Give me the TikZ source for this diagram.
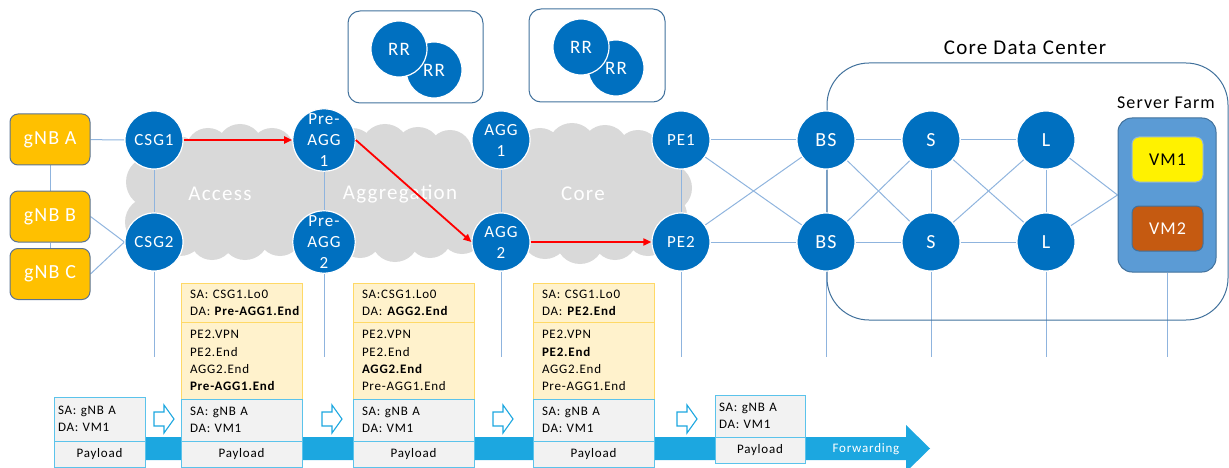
\documentclass[tikz,border=0pt]{standalone}
\usepackage{fontspec}
\setmainfont{Carlito}[LetterSpace=6]
\usetikzlibrary{arrows.meta}

\definecolor{nodeblue}{HTML}{0070C0}
\definecolor{linkblue}{HTML}{8FB4DE}
\definecolor{cloudgray}{HTML}{D9D9D9}
\definecolor{gnbfill}{HTML}{FFC000}
\definecolor{gnbedge}{HTML}{5A7394}
\definecolor{boxedge}{HTML}{41719C}
\definecolor{farmfill}{HTML}{5B9BD5}
\definecolor{vmtwo}{HTML}{C55A11}
\definecolor{orgfill}{HTML}{FFF2CC}
\definecolor{orgedge}{HTML}{FFD966}
\definecolor{grayfill}{HTML}{F2F2F2}
\definecolor{cyanedge}{HTML}{5BC3EB}
\definecolor{fwdblue}{HTML}{1CA7E0}

\newcommand\fsz[2]{\fontsize{#1}{#2}\selectfont}

\pgfdeclarelayer{bg}
\pgfsetlayers{bg,main}

\tikzset{
  router/.style={circle, minimum size=58, inner sep=0, fill=nodeblue, draw=white,
    line width=1.2, text=white, align=center, font=\fsz{17}{21}},
  bigrouter/.style={router, font=\fsz{20}{22}},
  rrnode/.style={router, minimum size=56, font=\fsz{19}{21}},
  gnb/.style={rectangle, rounded corners=8, minimum width=80, minimum height=51,
    fill=gnbfill, draw=gnbedge, line width=1, text=white, font=\fsz{20}{22}},
  link/.style={draw=linkblue, line width=1},
  redarrow/.style={draw=red, line width=1.8, -{Triangle[length=8pt,width=7pt]}},
  rrbox/.style={rectangle, rounded corners=12, draw=boxedge, line width=1},
  pkt/.style={rectangle, line width=1, inner sep=0, align=left, font=\fsz{13}{17.3}},
  hdrbox/.style={pkt, draw=orgedge, fill=orgfill},
  ipbox/.style={pkt, draw=cyanedge, fill=grayfill},
  paybox/.style={pkt, draw=cyanedge, fill=grayfill, align=center},
  hollowarrow/.pic={\draw[fwdblue, line width=1.1, fill=white]
    (-10,-7) -- (0,-7) -- (0,-14) -- (10,0) -- (0,14) -- (0,7) -- (-10,7) -- cycle;}
}

\begin{document}
\begin{tikzpicture}[x=1pt,y=-1pt]
\useasboundingbox (0,0) rectangle (1229,468);

% ---------- cloud behind the access / aggregation / core rings ----------
\begin{pgfonlayer}{bg}
  \fill[cloudgray] (165,150) rectangle (672,240);
  \foreach \x/\y/\r in {178/158/22, 208/150/22, 240/147/23, 272/150/22, 352/152/24,
      385/148/24, 418/150/23, 450/152/22, 540/150/22, 572/147/24, 605/148/23,
      638/152/22, 662/160/20}
    \fill[cloudgray] (\x,\y) circle[radius=\r];
  \foreach \x/\y/\r in {180/232/24, 212/238/22, 245/236/24, 280/234/22, 360/236/22,
      395/238/24, 430/236/22, 462/232/22, 545/236/23, 580/240/24, 615/238/22,
      648/234/22}
    \fill[cloudgray] (\x,\y) circle[radius=\r];
  \fill[cloudgray] (152,182) circle[radius=26];
  \fill[cloudgray] (150,222) circle[radius=25];
  \fill[cloudgray] (668,188) circle[radius=24];
  \fill[cloudgray] (665,215) circle[radius=22];
\end{pgfonlayer}

\node[text=white, font=\fsz{21}{23}] (lacc) at (220,194) {Access};
\node[text=white, font=\fsz{21}{23}] (lagg) at (400,194) {Aggregation};
\node[text=white, font=\fsz{21}{23}] (lcore) at (583,194) {Core};

% ---------- route reflectors ----------
\node[rrbox, minimum width=135, minimum height=92] (rrb1) at (415.5,57) {};
\node[rrbox, minimum width=136, minimum height=93] (rrb2) at (597,55.5) {};
\node[rrnode] (rr1b) at (434,70) {RR};
\node[rrnode] (rr1a) at (399,49) {RR};
\node[rrnode] (rr2b) at (616,68) {RR};
\node[rrnode] (rr2a) at (581,47) {RR};

% ---------- core data center ----------
\node[rectangle, rounded corners=42, draw=boxedge, line width=1,
  minimum width=401, minimum height=257] (dc) at (1027.5,191.5) {};
\node[font=\fsz{21}{23}] (dctitle) at (1025,48) {Core Data Center};
\node[font=\fsz{18}{20}] (farmtitle) at (1166,103) {Server Farm};
\node[rectangle, rounded corners=14, fill=farmfill, draw=boxedge, line width=1,
  minimum width=98, minimum height=154] (farm) at (1167,195) {};
\node[rectangle, rounded corners=7, fill=yellow, draw=linkblue, line width=1,
  minimum width=71, minimum height=45, font=\fsz{18}{20}] (vm1) at (1167.5,159.5) {VM1};
\node[rectangle, rounded corners=7, fill=vmtwo, draw=boxedge, line width=1,
  minimum width=71, minimum height=45, text=white, font=\fsz{18}{20}] (vm2) at (1167.5,228.5) {VM2};

% ---------- base stations ----------
\node[gnb] (gnba) at (50,139.5) {gNB A};
\node[gnb] (gnbb) at (50,216.5) {gNB B};
\node[gnb] (gnbc) at (50,274) {gNB C};

% ---------- routers ----------
\node[router] (csg1) at (154,140) {CSG1};
\node[router] (csg2) at (154,242) {CSG2};
\node[router] (pag1) at (324,140) {Pre-\\AGG\\1};
\node[router] (pag2) at (324,242) {Pre-\\AGG\\2};
\node[router] (agg1) at (501,140) {AGG\\1};
\node[router] (agg2) at (501,242) {AGG\\2};
\node[router] (pe1) at (681,140) {PE1};
\node[router] (pe2) at (681,242) {PE2};
\node[bigrouter] (bs1) at (826,140) {BS};
\node[bigrouter] (bs2) at (826,242) {BS};
\node[bigrouter] (s1) at (931,140) {S};
\node[bigrouter] (s2) at (931,242) {S};
\node[bigrouter] (l1) at (1046,140) {L};
\node[bigrouter] (l2) at (1046,242) {L};

% drop lines ends
\coordinate (csgd) at (154,357);
\coordinate (pagd) at (324,357);
\coordinate (aggd) at (501,357);
\coordinate (ped) at (681,357);
\coordinate (bsd) at (826,357);
\coordinate (sd) at (931,357);
\coordinate (ld) at (1046,357);
\coordinate (farmd) at (1167,357);

% ---------- links ----------
\begin{pgfonlayer}{bg}
  \draw[link] (gnba) -- (csg1);
  \draw[link] (gnba.south) -- (gnbb.north);
  \draw[link] (gnbb.south) -- (gnbc.north);
  \draw[link] (gnbb.east) -- (csg2.west);
  \draw[link] (gnbc.east) -- (csg2.west);
  \draw[link] (csg1) -- (csg2) -- (csgd);
  \draw[link] (pag1) -- (pag2) -- (pagd);
  \draw[link] (agg1) -- (agg2) -- (aggd);
  \draw[link] (pe1) -- (pe2) -- (ped);
  \draw[link] (bs1) -- (bs2) -- (bsd);
  \draw[link] (s1) -- (s2) -- (sd);
  \draw[link] (l1) -- (l2) -- (ld);
  \draw[link] (farm.south) -- (farmd);
  \draw[link] (pe1) -- (bs1);
  \draw[link] (pe2) -- (bs2);
  \draw[link] (pe1) -- (bs2);
  \draw[link] (pe2) -- (bs1);
  \draw[link] (bs1) -- (s1);
  \draw[link] (bs2) -- (s2);
  \draw[link] (bs1) -- (s2);
  \draw[link] (bs2) -- (s1);
  \draw[link] (s1) -- (l1);
  \draw[link] (s2) -- (l2);
  \draw[link] (s1) -- (l2);
  \draw[link] (s2) -- (l1);
  \draw[link] (l1) -- (farm.west);
  \draw[link] (l2) -- (farm.west);
\end{pgfonlayer}

% ---------- SRv6 path ----------
\draw[redarrow] (csg1) -- (pag1);
\draw[redarrow] (pag1.east) -- (agg2.west);
\draw[redarrow] (agg2) -- (pe2);

% ---------- forwarding band ----------
\fill[fwdblue] (100,437) -- (906,437) -- (906,425) -- (930,448.5) -- (906,472)
  -- (906,460) -- (100,460) -- cycle;
\node[text=white, font=\fsz{13}{15}] (fwd) at (866,449) {Forwarding};

\pic at (164,419) {hollowarrow};
\pic at (332,419) {hollowarrow};
\pic at (503,419) {hollowarrow};
\pic at (687,419) {hollowarrow};

% ---------- packet at gNB A ----------
\node[ipbox, minimum width=91, minimum height=44, text width=83] (p1i) at (99.5,419) {SA: gNB A\\DA: VM1};
\node[paybox, minimum width=91, minimum height=26] (p1p) at (99.5,454) {Payload};

% ---------- packet at CSG1 ----------
\node[hdrbox, minimum width=121, minimum height=39, text width=103] (p2h) at (241.5,302.5)
  {SA: CSG1.Lo0\\DA: \rlap{\textbf{Pre-AGG1.End}}};
\node[hdrbox, minimum width=121, minimum height=77, text width=103] (p2s) at (241.5,360.5)
  {PE2.VPN\\PE2.End\\AGG2.End\\\textbf{Pre-AGG1.End}};
\node[ipbox, minimum width=121, minimum height=42, text width=103] (p2i) at (241.5,420) {SA: gNB A\\DA: VM1};
\node[paybox, minimum width=121, minimum height=26] (p2p) at (241.5,454) {Payload};

% ---------- packet at Pre-AGG1 ----------
\node[hdrbox, minimum width=121, minimum height=39, text width=103] (p3h) at (413.5,302.5)
  {SA:CSG1.Lo0\\DA: \textbf{AGG2.End}};
\node[hdrbox, minimum width=121, minimum height=77, text width=103] (p3s) at (413.5,360.5)
  {PE2.VPN\\PE2.End\\\textbf{AGG2.End}\\Pre-AGG1.End};
\node[ipbox, minimum width=121, minimum height=42, text width=103] (p3i) at (413.5,420) {SA: gNB A\\DA: VM1};
\node[paybox, minimum width=121, minimum height=26] (p3p) at (413.5,454) {Payload};

% ---------- packet at AGG2 ----------
\node[hdrbox, minimum width=121, minimum height=39, text width=103] (p4h) at (593.5,302.5)
  {SA: CSG1.Lo0\\DA: \textbf{PE2.End}};
\node[hdrbox, minimum width=121, minimum height=77, text width=103] (p4s) at (593.5,360.5)
  {PE2.VPN\\\textbf{PE2.End}\\AGG2.End\\Pre-AGG1.End};
\node[ipbox, minimum width=121, minimum height=42, text width=103] (p4i) at (593.5,420) {SA: gNB A\\DA: VM1};
\node[paybox, minimum width=121, minimum height=26] (p4p) at (593.5,454) {Payload};

% ---------- packet after PE2 ----------
\node[ipbox, minimum width=90, minimum height=42, text width=82] (p5i) at (760,416) {SA: gNB A\\DA: VM1};
\node[paybox, minimum width=90, minimum height=26] (p5p) at (760,450) {Payload};

\end{tikzpicture}
\end{document}
